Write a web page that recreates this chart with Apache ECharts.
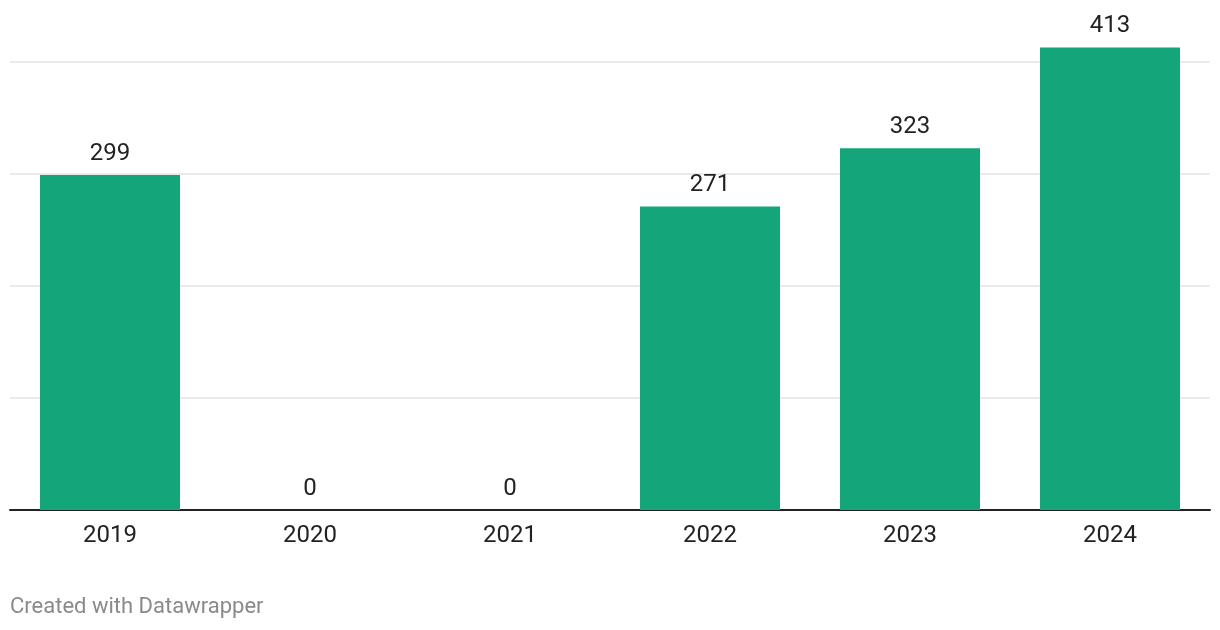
<!DOCTYPE html>
<html><head><meta charset="utf-8">
<script src="https://cdn.jsdelivr.net/npm/echarts@6/dist/echarts.min.js"></script>
<style>html,body{margin:0;padding:0;background:#fff}#c{width:1220px;height:630px}</style>
</head><body><div id="c"></div>
<script>
const years = ['2019','2020','2021','2022','2023','2024'];
const values = [299, 0, 0, 271, 323, 413];
const yTicks = [0, 100, 200, 300, 400];

const chart = echarts.init(document.getElementById('c'), null, {renderer:'canvas'});
chart.setOption({
  animation: false,
  backgroundColor: '#ffffff',
  textStyle: { fontFamily: 'Roboto' },
  grid: { left: 10, right: 10, top: 62, bottom: 120, containLabel: false },
  xAxis: {
    type: 'category',
    data: years,
    axisLine: { show: true, lineStyle: { color: '#222', width: 2 } },
    axisTick: { show: false },
    axisLabel: { color: '#222', fontSize: 24, margin: 14, fontFamily: 'Roboto' }
  },
  yAxis: {
    type: 'value',
    min: yTicks[0],
    max: yTicks[yTicks.length - 1],
    interval: 100,
    axisLine: { show: false },
    axisTick: { show: false },
    axisLabel: { show: false },
    splitLine: { show: true, lineStyle: { color: '#e3e3e3', width: 1.5 } }
  },
  series: [{
    type: 'bar',
    data: values,
    barWidth: '70%',
    clip: false,
    itemStyle: { color: '#14a57b' },
    label: {
      show: true,
      position: 'top',
      distance: 9,
      color: '#222',
      fontSize: 24,
      fontFamily: 'Roboto'
    }
  }],
  graphic: [{
    type: 'text',
    left: 10,
    top: 596,
    style: { text: 'Created with Datawrapper', fill: '#8a8a8a', fontSize: 22, fontFamily: 'Roboto' }
  }]
});
</script></body></html>
